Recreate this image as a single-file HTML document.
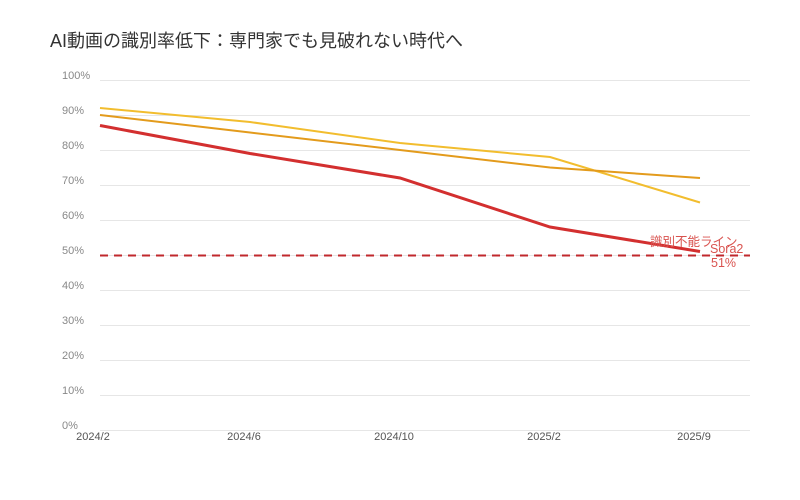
<!DOCTYPE html>
<html><head><meta charset="utf-8"><style>
html,body{margin:0;padding:0;background:#fff;}
svg{display:block;font-family:"Liberation Sans","Noto Sans CJK JP",sans-serif;}
</style></head><body>
<svg width="800" height="500" viewBox="0 0 800 500">
<rect width="800" height="500" fill="#fff"/>
<text x="50" y="47" font-size="18" fill="#333">AI動画の識別率低下：専門家でも見破れない時代へ</text>
<g stroke="#e6e6e6" stroke-width="1">
<line x1="100" x2="750" y1="80.5" y2="80.5"/><line x1="100" x2="750" y1="115.5" y2="115.5"/>
<line x1="100" x2="750" y1="150.5" y2="150.5"/><line x1="100" x2="750" y1="185.5" y2="185.5"/>
<line x1="100" x2="750" y1="220.5" y2="220.5"/><line x1="100" x2="750" y1="255.5" y2="255.5"/>
<line x1="100" x2="750" y1="290.5" y2="290.5"/><line x1="100" x2="750" y1="325.5" y2="325.5"/>
<line x1="100" x2="750" y1="360.5" y2="360.5"/><line x1="100" x2="750" y1="395.5" y2="395.5"/>
<line x1="100" x2="750" y1="430.5" y2="430.5"/>
</g>
<g font-size="11" fill="#888">
<text x="62" y="79">100%</text><text x="62" y="114">90%</text><text x="62" y="149">80%</text>
<text x="62" y="184">70%</text><text x="62" y="219">60%</text><text x="62" y="254">50%</text>
<text x="62" y="289">40%</text><text x="62" y="324">30%</text><text x="62" y="359">20%</text>
<text x="62" y="394">10%</text><text x="62" y="429">0%</text>
</g>
<g font-size="11" fill="#555" text-anchor="middle">
<text x="93" y="440">2024/2</text><text x="244" y="440">2024/6</text><text x="394" y="440">2024/10</text>
<text x="544" y="440">2025/2</text><text x="694" y="440">2025/9</text>
</g>
<line x1="100" x2="750" y1="255.5" y2="255.5" stroke="#c0282d" stroke-width="2" stroke-dasharray="8,6"/>
<polyline points="100,108 250,122 400,143 550,157 700,202.5" fill="none" stroke="#f2bd2e" stroke-width="2"/>
<polyline points="100,115 250,132.5 400,150 550,167.5 700,178" fill="none" stroke="#e39b1c" stroke-width="2"/>
<polyline points="100,125.5 250,153.5 400,178 550,227 700,251.5" fill="none" stroke="#d32f2f" stroke-width="3"/>
<g font-size="12.5" fill="#d9534f">
<text x="650" y="246">識別不能ライン</text>
<text x="710" y="253">Sora2</text>
<text x="711" y="267">51%</text>
</g>
</svg>
</body></html>
